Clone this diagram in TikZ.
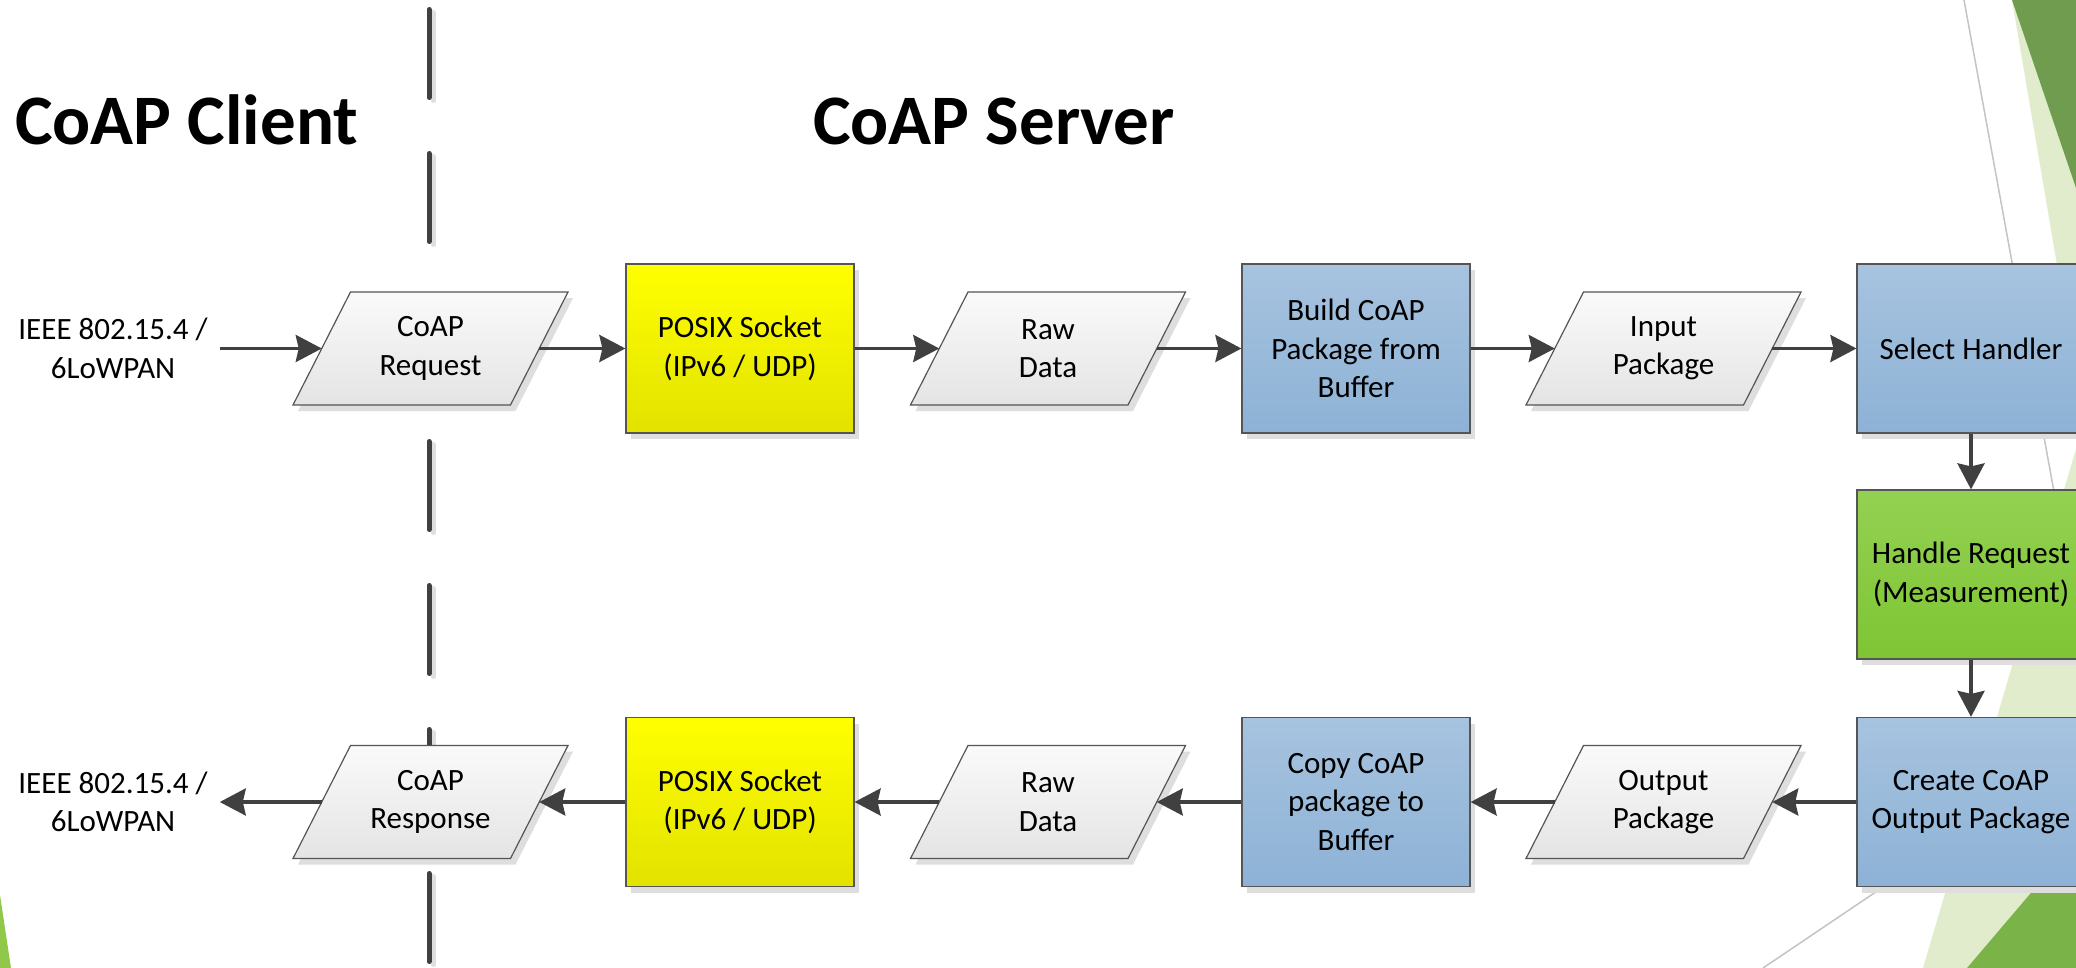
\documentclass[tikz,border=0pt]{standalone}
\usepackage{fontspec}
\setmainfont{Carlito}
\usetikzlibrary{arrows.meta,shadows}
\definecolor{arrowc}{HTML}{404040}
\definecolor{shadowc}{HTML}{DEDEDE}
\definecolor{ioTop}{HTML}{FAFAFA}
\definecolor{ioBot}{HTML}{E4E4E4}
\definecolor{yelTop}{HTML}{FFFF00}
\definecolor{yelBot}{HTML}{E2E200}
\definecolor{bluTop}{HTML}{A7C3DF}
\definecolor{bluBot}{HTML}{8DB2D6}
\definecolor{grnTop}{HTML}{93D152}
\definecolor{grnBot}{HTML}{7EC534}
\definecolor{edgec}{HTML}{555555}
\definecolor{dkgreenA}{HTML}{6F9C4F}
\definecolor{dkgreenB}{HTML}{7AB348}
\definecolor{ltgreen}{HTML}{E0ECCB}
\definecolor{brgreen}{HTML}{92C84A}
\definecolor{thinline}{HTML}{C4C4C4}
\newcommand\diagbody{\fontsize{31}{38.4}\selectfont}
\newcommand\diagtitle{\fontsize{71}{85}\selectfont\bfseries}
\newcommand\ionode[4]{%
  \path[iobox, shift={(#2,#3)}] (-80,-56.5) -- (137.5,-56.5) -- (80,56.5) -- (-137.5,56.5) -- cycle;
  \node[iotext] (#1) at (#2,#3) {#4};
  \coordinate (#1-l) at (#2-108.75,#3);
  \coordinate (#1-r) at (#2+108.75,#3);
}
\begin{document}
\begin{tikzpicture}[x=1pt,y=-1pt,
  shad/.style={drop shadow={shadow xshift=5pt,shadow yshift=-6pt,fill=shadowc,opacity=1}},
  proc/.style={draw=edgec, line width=1.2pt, minimum width=228pt, minimum height=169pt,
    align=center, font=\diagbody, inner sep=0pt, shad},
  yel/.style={top color=yelTop, bottom color=yelBot},
  blu/.style={top color=bluTop, bottom color=bluBot},
  grn/.style={top color=grnTop, bottom color=grnBot},
  iobox/.style={draw=edgec, line width=1.2pt, top color=ioTop, bottom color=ioBot, shad},
  iotext/.style={align=center, font=\diagbody, inner sep=0pt},
  lbl/.style={align=center, font=\diagbody, inner xsep=12pt, inner ysep=0pt},
  title/.style={anchor=base west, font=\diagtitle, inner sep=0pt},
  arr/.style={draw=arrowc, line width=3.5pt, -{Stealth[length=26pt,width=27pt,inset=3pt]}},
  dashline/.style={line width=5pt, line cap=round, dash pattern=on 88pt off 56pt}
]
\clip (0,0) rectangle (2076,968);
\fill[white] (0,0) rectangle (2076,968);
% background decorations
\fill[ltgreen] (2012,0) -- (2076,0) -- (2076,377) -- cycle;
\fill[dkgreenA] (2012,0) -- (2076,0) -- (2076,188) -- cycle;
\fill[ltgreen] (1923,968) -- (2076,449) -- (2076,968) -- cycle;
\fill[dkgreenB] (1967,968) -- (2076,840) -- (2076,968) -- cycle;
\fill[brgreen] (0,895) -- (11,968) -- (0,968) -- cycle;
\draw[thinline, line width=1.5pt] (1964,0) -- (2076,612);
\draw[thinline, line width=1.5pt] (1763,968) -- (2076,757);
% titles
\node[title] (tclient) at (15,145) {CoAP Client};
\node[title] (tserver) at (813,145) {CoAP Server};
% separator
\coordinate (sepA) at (429,9.5);
\coordinate (sepB) at (429,980);
\draw[dashline, shadowc] ([shift={(4,3)}]sepA) -- ([shift={(4,3)}]sepB);
\draw[dashline, arrowc] (sepA) -- (sepB);
% row 1
\node[lbl] (lab1) at (113,348.5) {IEEE 802.15.4 /\\6LoWPAN};
\ionode{req}{430.5}{348.5}{CoAP\\Request}
\node[proc, yel] (pos1) at (740,348.5) {POSIX Socket\\(IPv6 / UDP)};
\ionode{raw1}{1048}{348.5}{Raw\\Data}
\node[proc, blu] (build) at (1356,348.5) {Build CoAP\\Package from\\Buffer};
\ionode{inp}{1663.5}{348.5}{Input\\Package}
\node[proc, blu] (sel) at (1971,348.5) {Select Handler};
% right column
\node[proc, grn] (hand) at (1971,574.5) {Handle Request\\(Measurement)};
\node[proc, blu] (create) at (1971,802) {Create CoAP\\Output Package};
% row 2
\ionode{outp}{1663.5}{802}{Output\\Package}
\node[proc, blu] (copy) at (1356,802) {Copy CoAP\\package to\\Buffer};
\ionode{raw2}{1048}{802}{Raw\\Data}
\node[proc, yel] (pos2) at (740,802) {POSIX Socket\\(IPv6 / UDP)};
\ionode{resp}{430.5}{802}{CoAP\\Response}
\node[lbl] (lab2) at (113,802) {IEEE 802.15.4 /\\6LoWPAN};
% connectors
\draw[arr] (lab1.east) -- (req-l);
\draw[arr] (req-r) -- (pos1.west);
\draw[arr] (pos1.east) -- (raw1-l);
\draw[arr] (raw1-r) -- (build.west);
\draw[arr] (build.east) -- (inp-l);
\draw[arr] (inp-r) -- (sel.west);
\draw[arr] (sel.south) -- (hand.north);
\draw[arr] (hand.south) -- (create.north);
\draw[arr] (create.west) -- (outp-r);
\draw[arr] (outp-l) -- (copy.east);
\draw[arr] (copy.west) -- (raw2-r);
\draw[arr] (raw2-l) -- (pos2.east);
\draw[arr] (pos2.west) -- (resp-r);
\draw[arr] (resp-l) -- (lab2.east);
\end{tikzpicture}
\end{document}
